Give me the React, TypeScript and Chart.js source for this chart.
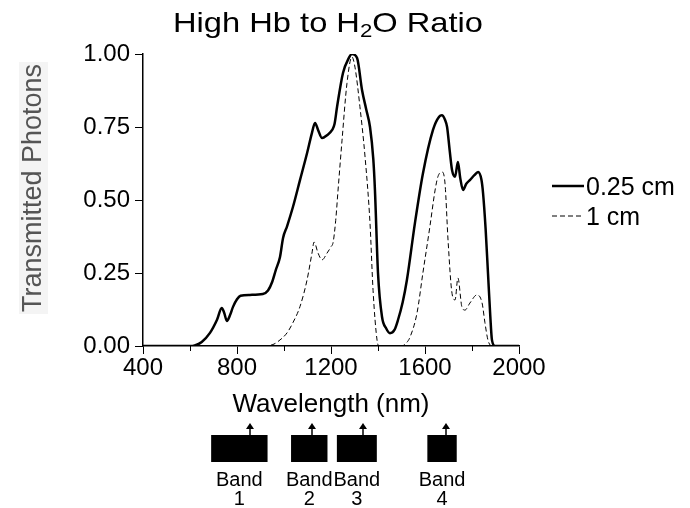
import React, { useEffect, useRef } from 'react';
import { Chart, registerables } from 'chart.js';

Chart.register(...registerables);

const FONT = "'Liberation Sans', Arial, sans-serif";

// 0.25 cm path length
const thinWl = [400, 500, 600, 620, 650, 685, 715, 735, 745, 757, 770, 783, 800, 815, 855, 910, 932, 950, 965, 983, 996, 1013, 1038, 1068, 1098, 1119, 1132, 1145, 1162, 1183, 1205, 1215, 1226, 1251, 1275, 1289, 1311, 1332, 1350, 1366, 1380, 1387, 1400, 1417, 1435, 1451, 1470, 1485, 1505, 1523, 1557, 1591, 1634, 1660, 1672, 1685, 1694, 1705, 1715, 1728, 1740, 1750, 1762, 1775, 1791, 1810, 1826, 1840, 1847, 1858, 1868, 1878, 1885, 1898, 2000];
const thinT = [0, 0, 0, 0.002, 0.014, 0.045, 0.09, 0.13, 0.115, 0.086, 0.105, 0.134, 0.16, 0.172, 0.175, 0.178, 0.19, 0.22, 0.26, 0.305, 0.37, 0.41, 0.476, 0.568, 0.66, 0.73, 0.764, 0.74, 0.712, 0.722, 0.74, 0.76, 0.82, 0.935, 0.985, 1.0, 0.986, 0.877, 0.81, 0.75, 0.64, 0.534, 0.25, 0.1, 0.06, 0.044, 0.055, 0.089, 0.15, 0.226, 0.42, 0.59, 0.74, 0.785, 0.79, 0.775, 0.75, 0.67, 0.603, 0.58, 0.63, 0.575, 0.534, 0.555, 0.568, 0.585, 0.596, 0.57, 0.524, 0.4, 0.25, 0.1, 0.02, 0, 0];

// 1 cm path length
const thickWl = [400, 900, 953, 974, 1013, 1038, 1068, 1098, 1119, 1128, 1145, 1162, 1183, 1200, 1209, 1220, 1230, 1247, 1268, 1289, 1302, 1323, 1345, 1366, 1379, 1396, 1405, 1500, 1520, 1536, 1566, 1591, 1621, 1643, 1655, 1672, 1685, 1698, 1715, 1728, 1740, 1757, 1770, 1791, 1821, 1843, 1855, 1868, 1885, 2000];
const thickT = [0, 0, 0.005, 0.015, 0.045, 0.08, 0.135, 0.226, 0.318, 0.356, 0.318, 0.295, 0.318, 0.34, 0.355, 0.43, 0.534, 0.705, 0.9, 0.99, 0.955, 0.82, 0.647, 0.42, 0.19, 0.02, 0, 0, 0.01, 0.03, 0.113, 0.25, 0.41, 0.534, 0.58, 0.596, 0.558, 0.363, 0.18, 0.158, 0.233, 0.134, 0.123, 0.147, 0.175, 0.147, 0.08, 0.02, 0, 0];

const seriesLabels = ['0.25 cm', '1 cm'];
const xTicks = [400, 800, 1200, 1600, 2000];
const xMinorTicks = [600, 1000, 1400, 1800];
const yTicks = [0, 0.25, 0.5, 0.75, 1.0];

const bandNames = ['1', '2', '3', '4'];
const bandStart = [690, 1030, 1225, 1610];
const bandEnd = [930, 1185, 1395, 1735];
const bandArrow = [855, 1120, 1335, 1690];

const titleParts = ['High Hb to H', '2', 'O Ratio'];
const yTitle = 'Transmitted Photons';

const overlay = {
  id: 'overlay',
  beforeDraw(chart: any) {
    const ctx = chart.ctx;
    ctx.save();
    ctx.fillStyle = '#ffffff';
    ctx.fillRect(0, 0, chart.width, chart.height);
    // y title with its light backdrop
    ctx.fillStyle = '#f4f4f4';
    ctx.fillRect(19, 62, 29, 252);
    ctx.translate(33, 188);
    ctx.rotate(-Math.PI / 2);
    ctx.fillStyle = '#555';
    ctx.font = `27px ${FONT}`;
    ctx.textAlign = 'center';
    ctx.textBaseline = 'middle';
    ctx.fillText(yTitle, 0, 1);
    ctx.restore();
  },
  afterDraw(chart: any) {
    const ctx = chart.ctx;
    const { x } = chart.scales;
    const ca = chart.chartArea;
    ctx.save();
    // minor x ticks
    ctx.strokeStyle = '#000';
    ctx.lineWidth = 1;
    xMinorTicks.forEach((v) => {
      const px = Math.round(x.getPixelForValue(v)) + 0.5;
      ctx.beginPath();
      ctx.moveTo(px, ca.bottom);
      ctx.lineTo(px, ca.bottom + 5);
      ctx.stroke();
    });

    // title with subscript
    const mainFont = `28px ${FONT}`;
    const subFont = `19px ${FONT}`;
    ctx.fillStyle = '#000';
    ctx.textBaseline = 'alphabetic';
    ctx.textAlign = 'left';
    ctx.font = mainFont;
    const w0 = ctx.measureText(titleParts[0]).width;
    const w2 = ctx.measureText(titleParts[2]).width;
    ctx.font = subFont;
    const w1 = ctx.measureText(titleParts[1]).width;
    const total = w0 + w1 + w2;
    const targetW = 310;
    const sx = targetW / total;
    const cx = 328;
    ctx.save();
    ctx.translate(cx - targetW / 2, 32);
    ctx.scale(sx, 1);
    let tx = 0;
    ctx.font = mainFont;
    ctx.fillText(titleParts[0], tx, 0);
    tx += w0;
    ctx.font = subFont;
    ctx.fillText(titleParts[1], tx, 5);
    tx += w1;
    ctx.font = mainFont;
    ctx.fillText(titleParts[2], tx, 0);
    ctx.restore();

    // legend
    ctx.font = `25px ${FONT}`;
    ctx.textBaseline = 'alphabetic';
    ctx.textAlign = 'left';
    const legX = ca.right + 33;
    const legBase = [195, 225];
    chart.data.datasets.forEach((ds: any, i: number) => {
      const ly = legBase[i] - 9;
      ctx.save();
      ctx.strokeStyle = '#000';
      ctx.lineWidth = ds.borderWidth;
      ctx.setLineDash(ds.borderDash || []);
      ctx.beginPath();
      ctx.moveTo(legX, ly);
      ctx.lineTo(legX + 32, ly);
      ctx.stroke();
      ctx.restore();
      ctx.fillText(ds.label, legX + 34, legBase[i]);
    });

    // bands
    const boxTop = ca.bottom + 89;
    const boxBottom = ca.bottom + 116;
    bandNames.forEach((name, i) => {
      const x0 = x.getPixelForValue(bandStart[i]);
      const x1 = x.getPixelForValue(bandEnd[i]);
      const xa = Math.round(x.getPixelForValue(bandArrow[i]));
      ctx.fillStyle = '#000';
      ctx.fillRect(x0, boxTop, x1 - x0, boxBottom - boxTop);
      ctx.strokeStyle = '#000';
      ctx.lineWidth = 1.5;
      ctx.beginPath();
      ctx.moveTo(xa, boxTop);
      ctx.lineTo(xa, boxTop - 8);
      ctx.stroke();
      ctx.beginPath();
      ctx.moveTo(xa - 4, boxTop - 6);
      ctx.lineTo(xa + 4, boxTop - 6);
      ctx.lineTo(xa, boxTop - 12);
      ctx.closePath();
      ctx.fill();
      const bc = (x0 + x1) / 2;
      ctx.font = `20px ${FONT}`;
      ctx.textAlign = 'center';
      ctx.textBaseline = 'middle';
      ctx.fillText('Band', bc, boxBottom + 18);
      ctx.fillText(name, bc, boxBottom + 37);
    });
    ctx.restore();
  },
};

export default function App() {
  const ref = useRef<HTMLCanvasElement | null>(null);
  useEffect(() => {
    if (!ref.current) return;
    Chart.defaults.font.family = FONT;
    const chart = new Chart(ref.current, {
      type: 'line',
      data: {
        datasets: [
          {
            label: seriesLabels[0],
            data: thinWl.map((w, i) => ({ x: w, y: thinT[i] })),
            borderColor: '#000',
            borderWidth: 2.5,
            pointRadius: 0,
            fill: false,
            cubicInterpolationMode: 'monotone',
          },
          {
            label: seriesLabels[1],
            data: thickWl.map((w, i) => ({ x: w, y: thickT[i] })),
            borderColor: '#000',
            borderWidth: 1,
            borderDash: [5, 3],
            pointRadius: 0,
            fill: false,
            cubicInterpolationMode: 'monotone',
          },
        ],
      },
      options: {
        animation: false,
        responsive: false,
        layout: { padding: { left: 0, right: 171, top: 54, bottom: 82 } },
        plugins: {
          legend: { display: false },
          title: { display: false },
          tooltip: { enabled: false },
        },
        scales: {
          x: {
            type: 'linear',
            min: 400,
            max: 2000,
            afterBuildTicks: (s: any) => {
              s.ticks = xTicks.map((v) => ({ value: v }));
            },
            afterFit: (s: any) => {
              s.height = 80;
            },
            ticks: {
              color: '#000',
              font: { size: 24, family: FONT },
              padding: 0,
              maxRotation: 0,
              autoSkip: false,
              callback: (v: any) => String(v),
            },
            grid: { drawOnChartArea: false, drawTicks: true, tickLength: 8, color: '#000', lineWidth: 1 },
            border: { display: true, color: '#000', width: 1.5 },
            title: {
              display: true,
              text: 'Wavelength (nm)',
              color: '#000',
              font: { size: 26, family: FONT },
              padding: { top: 0, bottom: 6 },
            },
          },
          y: {
            type: 'linear',
            min: 0,
            max: 1,
            afterBuildTicks: (s: any) => {
              s.ticks = yTicks.map((v) => ({ value: v }));
            },
            afterFit: (s: any) => {
              s.width = 143;
            },
            ticks: {
              color: '#000',
              font: { size: 24, family: FONT },
              padding: 5,
              callback: (v: any) => Number(v).toFixed(2),
            },
            grid: { drawOnChartArea: false, drawTicks: true, tickLength: 8, color: '#000', lineWidth: 1 },
            border: { display: true, color: '#000', width: 1.5 },
            title: { display: false, text: yTitle },
          },
        },
      },
      plugins: [overlay],
    } as any);
    return () => chart.destroy();
  }, []);
  return (
    <div style={{ position: 'absolute', left: 0, top: 0, width: 690, height: 508 }}>
      <canvas ref={ref} width={690} height={508} style={{ display: 'block' }} />
    </div>
  );
}
